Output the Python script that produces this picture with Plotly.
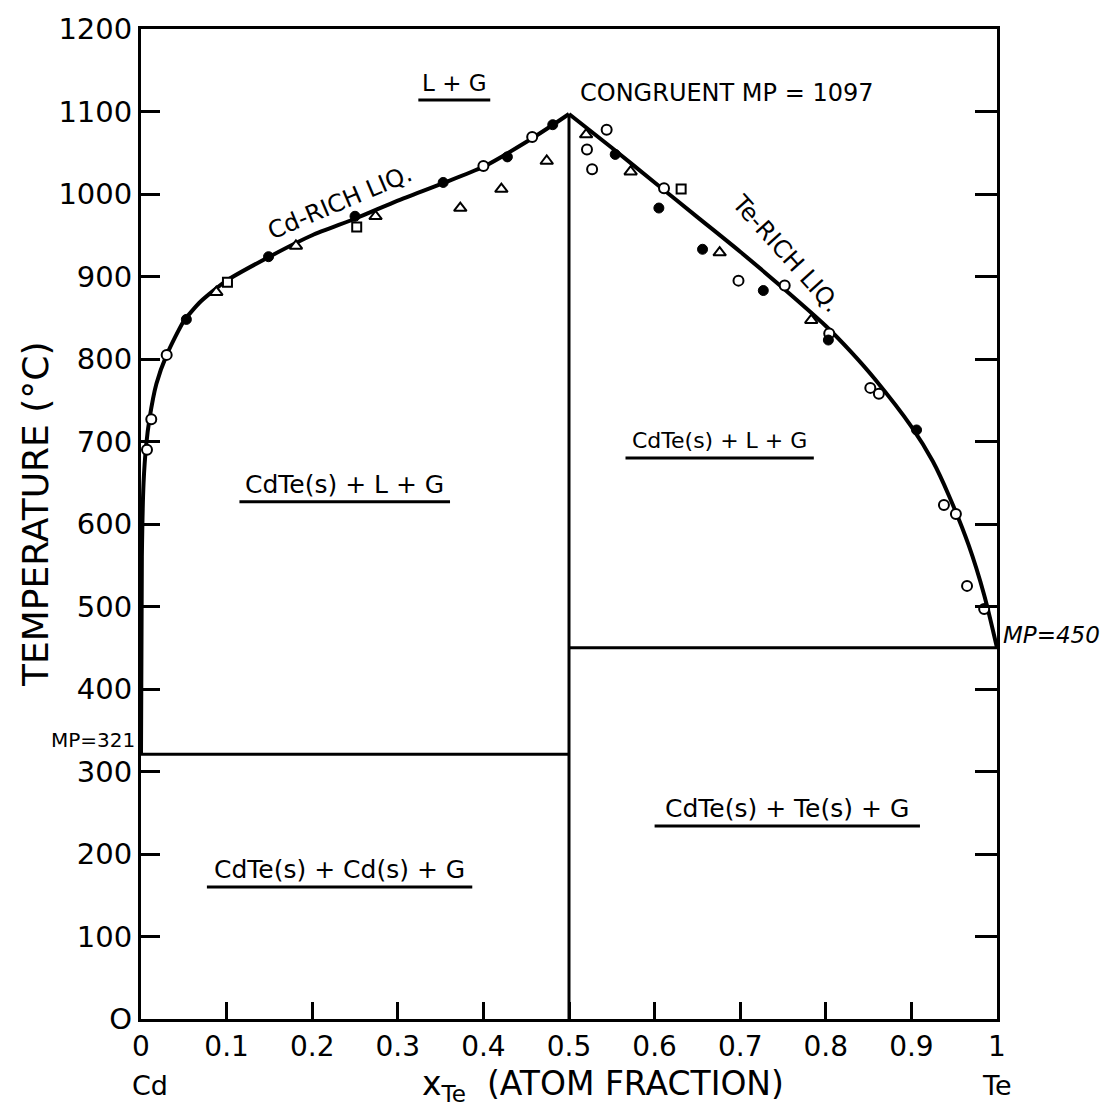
import plotly.graph_objects as go

# ---------------- data ----------------
# liquidus curves
cd_liq_x = [0.0, 0.001, 0.003, 0.006, 0.010, 0.018, 0.030, 0.050, 0.070, 0.100, 0.150, 0.200, 0.250, 0.300, 0.350, 0.400, 0.450, 0.480, 0.500]
cd_liq_T = [321, 560, 650, 695, 728, 770, 805, 846, 870, 895, 924, 950, 970, 992, 1012, 1033, 1063, 1083, 1097]

te_liq_x = [0.5, 0.55, 0.6, 0.65, 0.7, 0.75, 0.8, 0.83, 0.857, 0.9, 0.925, 0.944, 0.967, 0.985, 1.0]
te_liq_T = [1097, 1056, 1014, 972, 930, 886, 840, 808, 776, 718, 676, 634, 574, 514, 450]

# invariant temperatures
x_cdte = 0.5
T_congruent = 1097
T_cd_mp = 321
T_te_mp = 450

# experimental points
open_circle_x = [0.007, 0.012, 0.030, 0.400, 0.457, 0.521, 0.527, 0.544, 0.611, 0.698, 0.752, 0.804, 0.852, 0.862, 0.938, 0.952, 0.965, 0.985]
open_circle_T = [690, 727, 805, 1034, 1069, 1054, 1030, 1078, 1007, 895, 889, 831, 765, 758, 623, 612, 525, 497]

filled_circle_x = [0.053, 0.149, 0.250, 0.353, 0.428, 0.481, 0.554, 0.605, 0.656, 0.727, 0.803, 0.906]
filled_circle_T = [848, 924, 973, 1014, 1045, 1084, 1048, 983, 933, 883, 823, 714]

triangle_x = [0.088, 0.181, 0.274, 0.373, 0.421, 0.474, 0.520, 0.572, 0.676, 0.783]
triangle_T = [881, 937, 973, 983, 1006, 1040, 1072, 1027, 929, 847]

square_x = [0.101, 0.252, 0.631]
square_T = [893, 960, 1006]

x_tick_vals = [0, 0.1, 0.2, 0.3, 0.4, 0.5, 0.6, 0.7, 0.8, 0.9, 1.0]
x_tick_text = ["0", "0.1", "0.2", "0.3", "0.4", "0.5", "0.6", "0.7", "0.8", "0.9", "1"]
y_tick_vals = list(range(0, 1201, 100))
y_tick_text = ["O"] + [str(v) for v in y_tick_vals[1:]]

# region labels
region_text = ["L + G", "CdTe(s) + L + G", "CdTe(s) + L + G", "CdTe(s) + Cd(s) + G", "CdTe(s) + Te(s) + G"]
region_x = [0.366, 0.238, 0.676, 0.232, 0.755]
region_T = [1135, 648, 701, 181, 255]
region_halfwidth = [0.042, 0.123, 0.110, 0.155, 0.155]
region_size = [23, 25, 22, 25, 25]

FONT = "DejaVu Sans"
BLACK = "black"

fig = go.Figure()

# phase boundaries
fig.add_trace(go.Scatter(x=cd_liq_x, y=cd_liq_T, mode="lines",
                         line=dict(color=BLACK, width=4, shape="spline", smoothing=0.6),
                         hoverinfo="skip", showlegend=False))
fig.add_trace(go.Scatter(x=te_liq_x, y=te_liq_T, mode="lines",
                         line=dict(color=BLACK, width=4, shape="spline", smoothing=0.8),
                         hoverinfo="skip", showlegend=False))
fig.add_trace(go.Scatter(x=[x_cdte, x_cdte], y=[0, T_congruent], mode="lines",
                         line=dict(color=BLACK, width=3), showlegend=False, hoverinfo="skip"))
fig.add_trace(go.Scatter(x=[0, x_cdte], y=[T_cd_mp, T_cd_mp], mode="lines",
                         line=dict(color=BLACK, width=3), showlegend=False, hoverinfo="skip"))
fig.add_trace(go.Scatter(x=[x_cdte, 1.0], y=[T_te_mp, T_te_mp], mode="lines",
                         line=dict(color=BLACK, width=3), showlegend=False, hoverinfo="skip"))

# experimental markers
fig.add_trace(go.Scatter(x=open_circle_x, y=open_circle_T, mode="markers",
                         marker=dict(symbol="circle", size=10, color="white",
                                     line=dict(color=BLACK, width=2)), showlegend=False))
fig.add_trace(go.Scatter(x=filled_circle_x, y=filled_circle_T, mode="markers",
                         marker=dict(symbol="circle", size=10, color=BLACK,
                                     line=dict(color=BLACK, width=1)), showlegend=False))
fig.add_trace(go.Scatter(x=triangle_x, y=triangle_T, mode="markers",
                         marker=dict(symbol="triangle-up", size=11, color="white",
                                     line=dict(color=BLACK, width=2)), showlegend=False))
fig.add_trace(go.Scatter(x=square_x, y=square_T, mode="markers",
                         marker=dict(symbol="square", size=9, color="white",
                                     line=dict(color=BLACK, width=2)), showlegend=False))

# invisible trace for right axis ticks
fig.add_trace(go.Scatter(x=[0], y=[0], yaxis="y2", mode="markers",
                         marker=dict(opacity=0), showlegend=False, hoverinfo="skip"))

annotations = []
shapes = []
for t, xv, yv, hw, fs in zip(region_text, region_x, region_T, region_halfwidth, region_size):
    annotations.append(dict(x=xv, y=yv, xref="x", yref="y", text=t, showarrow=False,
                            font=dict(family=FONT, size=fs, color=BLACK),
                            xanchor="center", yanchor="middle"))
    shapes.append(dict(type="line", xref="x", yref="y", x0=xv - hw, x1=xv + hw,
                       y0=yv - 21, y1=yv - 21, line=dict(color=BLACK, width=3)))

annotations += [
    dict(x=0.51, y=1123, xref="x", yref="y", text="CONGRUENT MP = 1097", showarrow=False,
         font=dict(family=FONT, size=24, color=BLACK), xanchor="left", yanchor="middle"),
    dict(x=0.233, y=990, xref="x", yref="y", text="Cd-RICH LIQ.", showarrow=False,
         textangle=-23, font=dict(family=FONT, size=24, color=BLACK),
         xanchor="center", yanchor="middle"),
    dict(x=0.753, y=928, xref="x", yref="y", text="Te-RICH LIQ.", showarrow=False,
         textangle=48, font=dict(family=FONT, size=24, color=BLACK),
         xanchor="center", yanchor="middle"),
    dict(x=-0.005, y=T_cd_mp + 17, xref="paper", yref="y", text="MP=321", showarrow=False,
         font=dict(family=FONT, size=20, color=BLACK), xanchor="right", yanchor="middle"),
    dict(x=1.005, y=T_te_mp + 16, xref="paper", yref="y", text="<i>MP=450</i>", showarrow=False,
         font=dict(family=FONT, size=23, color=BLACK), xanchor="left", yanchor="middle"),
    dict(x=0.01, y=-0.067, xref="paper", yref="paper", text="Cd", showarrow=False,
         font=dict(family=FONT, size=27, color=BLACK), xanchor="center", yanchor="middle"),
    dict(x=1.0, y=-0.067, xref="paper", yref="paper", text="Te", showarrow=False,
         font=dict(family=FONT, size=27, color=BLACK), xanchor="center", yanchor="middle"),
    dict(x=0.54, y=-0.067, xref="paper", yref="paper",
         text="x<sub>Te</sub>  (ATOM FRACTION)", showarrow=False,
         font=dict(family=FONT, size=33, color=BLACK), xanchor="center", yanchor="middle"),
    dict(x=-0.124, y=0.51, xref="paper", yref="paper", text="TEMPERATURE (°C)",
         showarrow=False, textangle=-90,
         font=dict(family=FONT, size=36, color=BLACK), xanchor="center", yanchor="middle"),
]

fig.update_layout(
    width=1116, height=1106,
    margin=dict(l=141, r=119, t=24, b=87),
    paper_bgcolor="white", plot_bgcolor="white",
    showlegend=False,
    font=dict(family=FONT, color=BLACK),
    xaxis=dict(range=[0, 1], tickvals=x_tick_vals, ticktext=x_tick_text,
               ticks="inside", ticklen=17, tickwidth=2.5, tickcolor=BLACK,
               showline=True, linewidth=3, linecolor=BLACK, mirror=True,
               showgrid=False, zeroline=False,
               tickfont=dict(family=FONT, size=28, color=BLACK)),
    yaxis=dict(range=[0, 1200], tickvals=y_tick_vals, ticktext=y_tick_text,
               ticks="inside", ticklen=19, tickwidth=2.5, tickcolor=BLACK,
               showline=True, linewidth=3, linecolor=BLACK, mirror=True,
               showgrid=False, zeroline=False,
               tickfont=dict(family=FONT, size=29, color=BLACK)),
    yaxis2=dict(range=[0, 1200], overlaying="y", side="right", anchor="x",
                tickvals=y_tick_vals, showticklabels=False,
                ticks="inside", ticklen=22, tickwidth=2.5, tickcolor=BLACK,
                showline=False, showgrid=False, zeroline=False),
    annotations=annotations,
    shapes=shapes,
)

fig.write_html("out.html")
